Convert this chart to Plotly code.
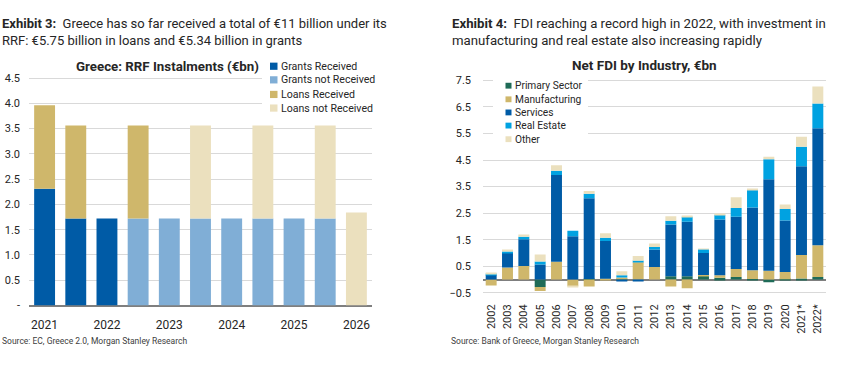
import plotly.graph_objects as go

# ---------------- Data: Exhibit 3 (RRF instalments, EUR bn) ----------------
periods = ["2021 H1", "2021 H2", "2022 H1", "2022 H2", "2023 H1", "2023 H2",
           "2024 H1", "2024 H2", "2025 H1", "2025 H2", "2026 H1"]
period_tick_vals = ["2021 H1", "2022 H1", "2023 H1", "2024 H1", "2025 H1", "2026 H1"]
period_tick_text = ["2021", "2022", "2023", "2024", "2025", "2026"]
grants_received = [2.31, 1.72, 1.72, 0, 0, 0, 0, 0, 0, 0, 0]
grants_not_received = [0, 0, 0, 1.72, 1.72, 1.72, 1.72, 1.72, 1.72, 1.72, 0]
loans_received = [1.65, 1.84, 0, 1.84, 0, 0, 0, 0, 0, 0, 0]
loans_not_received = [0, 0, 0, 0, 0, 1.84, 0, 1.84, 0, 1.84, 1.84]
rrf_y_ticks = [0, 0.5, 1.0, 1.5, 2.0, 2.5, 3.0, 3.5, 4.0, 4.5]
rrf_y_text = ["-", "0.5", "1.0", "1.5", "2.0", "2.5", "3.0", "3.5", "4.0", "4.5"]

# ---------------- Data: Exhibit 4 (Net FDI by industry, EUR bn) ----------------
years = ["2002", "2003", "2004", "2005", "2006", "2007", "2008", "2009", "2010",
         "2011", "2012", "2013", "2014", "2015", "2016", "2017", "2018", "2019",
         "2020", "2021*", "2022*"]
primary = [0.00, 0.00, 0.00, -0.28, 0.00, 0.00, 0.02, 0.00, 0.03, 0.00, 0.00,
           0.12, 0.12, 0.15, 0.07, 0.10, 0.02, -0.10, 0.01, 0.04, 0.10]
manufacturing = [-0.22, 0.45, 0.51, -0.15, 0.67, -0.25, -0.26, 0.03, 0.05, 0.65, 0.47,
                 -0.26, -0.33, 0.02, 0.09, 0.30, 0.33, 0.33, 0.27, 0.88, 1.19]
services = [0.18, 0.56, 1.01, 0.57, 3.27, 1.63, 3.04, 1.42, -0.07, -0.05, 0.66,
            1.95, 2.06, 0.83, 2.10, 1.96, 2.36, 3.45, 1.94, 3.35, 4.41]
real_estate = [0.02, 0.05, 0.09, 0.11, 0.16, 0.21, 0.17, 0.12, 0.08, 0.06, 0.10,
               0.14, 0.18, 0.14, 0.18, 0.33, 0.66, 0.75, 0.44, 0.73, 0.93]
other = [0.05, 0.07, 0.09, 0.26, 0.20, -0.05, 0.10, 0.17, 0.15, 0.18, 0.13,
         0.17, 0.02, 0.02, 0.05, 0.41, 0.03, 0.09, 0.17, 0.38, 0.64]
fdi_y_ticks = [-0.5, 0.5, 1.5, 2.5, 3.5, 4.5, 5.5, 6.5, 7.5]

# ---------------- Styles ----------------
FONT = "Roboto"
DARK_BLUE = "#005BA6"
LIGHT_BLUE = "#80AED6"
GOLD = "#CFB76B"
CREAM = "#EBE0BE"
GREEN = "#1F6B57"
CYAN = "#00A2E1"
GRID = "#D9D9D9"
AXIS = "#7F7F7F"
TXT = "#262626"

fig = go.Figure()

def add_bar(x, y, name, color, xa, ya):
    fig.add_trace(go.Bar(x=x, y=y, name=name, marker=dict(color=color, line=dict(width=0)),
                         xaxis=xa, yaxis=ya, showlegend=False))

left_series = [("Grants Received", grants_received, DARK_BLUE),
               ("Grants not Received", grants_not_received, LIGHT_BLUE),
               ("Loans Received", loans_received, GOLD),
               ("Loans not Received", loans_not_received, CREAM)]
right_series = [("Primary Sector", primary, GREEN),
                ("Manufacturing", manufacturing, GOLD),
                ("Services", services, DARK_BLUE),
                ("Real Estate", real_estate, CYAN),
                ("Other", other, CREAM)]

for name, vals, col in left_series:
    add_bar(periods, vals, name, col, "x", "y")
for name, vals, col in right_series:
    add_bar(years, vals, name, col, "x2", "y2")

W, H = 868, 368
def px(v):
    return v / W
def py(v):
    return (H - v) / H

fig.update_layout(
    width=W, height=H, margin=dict(l=0, r=0, t=0, b=0),
    paper_bgcolor="white", plot_bgcolor="white",
    barmode="relative", bargap=0.33,
    font=dict(family=FONT, size=11, color=TXT),
    showlegend=False,
    xaxis=dict(domain=[px(29), px(372)], anchor="y", type="category",
               tickvals=period_tick_vals, ticktext=period_tick_text,
               showgrid=False, showline=False, ticks="", ticklabelstandoff=10,
               tickfont=dict(size=12, color=TXT), fixedrange=True),
    yaxis=dict(domain=[py(311), py(74)], anchor="x", range=[0, 4.56],
               tickvals=rrf_y_ticks, ticktext=rrf_y_text,
               showgrid=True, gridcolor=GRID, gridwidth=1,
               zeroline=True, zerolinecolor=AXIS, zerolinewidth=2,
               showline=False, ticks="", ticklabelstandoff=8,
               tickfont=dict(size=11, color=TXT)),
    xaxis2=dict(domain=[px(483), px(826)], anchor="y2", type="category",
                showgrid=False, showline=False, ticks="", tickangle=-90,
                ticklabelstandoff=7, tickfont=dict(size=11, color=TXT)),
    yaxis2=dict(domain=[py(299.3), py(76.5)], anchor="x2", range=[-0.55, 7.61],
                tickvals=fdi_y_ticks, tickformat=".1f",
                showgrid=True, gridcolor=GRID, gridwidth=1,
                zeroline=True, zerolinecolor=AXIS, zerolinewidth=2,
                showline=False, ticks="", ticklabelstandoff=11,
                tickfont=dict(size=11, color=TXT)),
)

ann = []
shapes = []

def text(x, y, s, size, anchor="left", color=TXT):
    ann.append(dict(x=px(x), y=py(y), xref="paper", yref="paper", xanchor=anchor,
                    yanchor="middle", showarrow=False, align="left", text=s,
                    font=dict(size=size, color=color, family=FONT)))

text(0, 21, "<b>Exhibit 3:</b>  Greece has so far received a total of €11 billion under its", 13)
text(0, 39, "RRF: €5.75 billion in loans and €5.34 billion in grants", 13)
text(450, 21, "<b>Exhibit 4:</b>  FDI reaching a record high in 2022, with investment in", 13.2)
text(450, 39, "manufacturing and real estate also increasing rapidly", 13.2)
text(167, 65, "<b>Greece: RRF Instalments (€bn)</b>", 13.3, "center")
text(644, 64, "<b>Net FDI by Industry, €bn</b>", 13.5, "center")
text(0, 347, "Source: EC, Greece 2.0, Morgan Stanley Research", 8.5, color="#404040")
text(449, 347, "Source: Bank of Greece, Morgan Stanley Research", 8.5, color="#404040")

# Legend, left chart
shapes.append(dict(type="rect", xref="paper", yref="paper", x0=px(262), x1=px(372),
                   y0=py(116), y1=py(57), fillcolor="white", line=dict(width=0), layer="above"))
left_leg_y = [65, 79, 94, 108]
for (name, _, col), yy in zip(left_series, left_leg_y):
    shapes.append(dict(type="rect", xref="paper", yref="paper", x0=px(270), x1=px(277.5),
                       y0=py(yy + 3.7), y1=py(yy - 3.7), fillcolor=col, line=dict(width=0),
                       layer="above"))
    text(278.5, yy, name, 10.6)

# Legend, right chart
shapes.append(dict(type="rect", xref="paper", yref="paper", x0=px(493), x1=px(588),
                   y0=py(146), y1=py(69), fillcolor="white", line=dict(width=0), layer="above"))
right_leg_y = [85, 99, 112.5, 126, 140]
for (name, _, col), yy in zip(right_series, right_leg_y):
    shapes.append(dict(type="rect", xref="paper", yref="paper", x0=px(505.5), x1=px(511.5),
                       y0=py(yy + 3), y1=py(yy - 3), fillcolor=col, line=dict(width=0),
                       layer="above"))
    text(513, yy, name, 10.2)

fig.update_layout(annotations=ann, shapes=shapes)

fig.write_html("out.html", config={"displayModeBar": False},
               post_script="document.body.style.margin='0';document.body.style.overflow='hidden';")
